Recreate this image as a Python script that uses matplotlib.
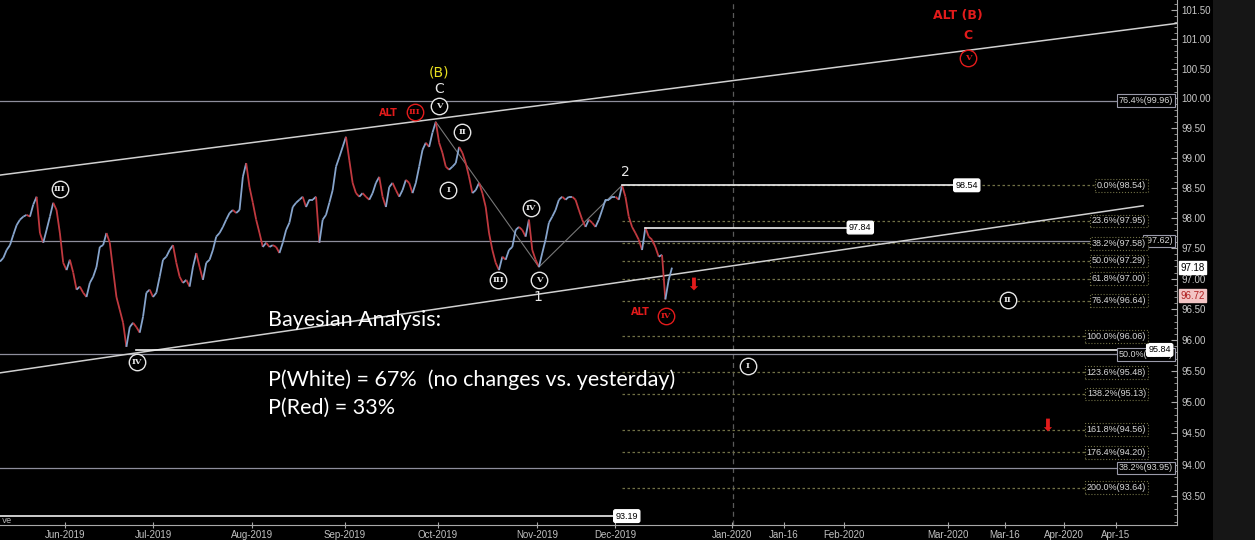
import numpy as np
import matplotlib.pyplot as plt
from matplotlib.collections import LineCollection
from matplotlib.patches import Rectangle
from matplotlib.ticker import FixedLocator, NullFormatter, FuncFormatter

# daily closes (approx.), early Jun-2019 .. mid Dec-2019, one per session
closes = [97.28, 97.34, 97.47, 97.55, 97.72, 97.88, 97.97, 98.02, 98.05, 98.02,
          98.22, 98.35, 97.75, 97.59, 97.80, 98.02, 98.25, 98.13, 97.75, 97.26,
          97.14, 97.31, 97.10, 96.82, 96.87, 96.77, 96.70, 96.93, 97.03, 97.19,
          97.52, 97.55, 97.75, 97.59, 97.14, 96.70, 96.49, 96.28, 95.89, 96.21,
          96.28, 96.21, 96.12, 96.38, 96.77, 96.82, 96.70, 96.77, 97.03, 97.31,
          97.36, 97.47, 97.55, 97.26, 97.03, 96.93, 96.98, 96.87, 97.19, 97.42,
          97.19, 96.98, 97.26, 97.31, 97.47, 97.69, 97.75, 97.85, 97.97, 98.08,
          98.13, 98.08, 98.13, 98.68, 98.91, 98.51, 98.25, 97.97, 97.75, 97.52,
          97.59, 97.52, 97.55, 97.52, 97.42, 97.59, 97.80, 97.92, 98.18, 98.25,
          98.30, 98.35, 98.18, 98.30, 98.30, 98.35, 97.59, 97.97, 98.05, 98.25,
          98.46, 98.85, 99.01, 99.18, 99.35, 98.96, 98.58, 98.41, 98.35, 98.41,
          98.35, 98.30, 98.41, 98.58, 98.68, 98.35, 98.18, 98.51, 98.58, 98.46,
          98.35, 98.46, 98.63, 98.58, 98.41, 98.58, 98.85, 99.13, 99.25, 99.18,
          99.42, 99.60, 99.25, 99.08, 98.85, 98.80, 98.85, 98.91, 99.18, 99.08,
          98.91, 98.68, 98.41, 98.46, 98.58, 98.41, 98.18, 97.75, 97.47, 97.26,
          97.14, 97.36, 97.31, 97.47, 97.52, 97.80, 97.85, 97.80, 97.69, 97.97,
          97.47, 97.31, 97.19, 97.42, 97.64, 97.92, 98.02, 98.13, 98.30, 98.35,
          98.30, 98.35, 98.35, 98.30, 98.13, 97.97, 97.85, 97.97, 97.92, 97.85,
          97.97, 98.13, 98.30, 98.30, 98.35, 98.35, 98.30, 98.54, 98.35, 98.02,
          97.85, 97.75, 97.64, 97.47, 97.84, 97.69, 97.64, 97.52, 97.36, 97.39,
          96.66, 96.98, 97.18]

# month ticks (session index) and labels
tick_pos = [19.5, 46.0, 75.7, 103.7, 131.6, 161.4, 184.9, 220.0, 235.6, 253.7,
            284.9, 302.1, 319.8, 335.4]
tick_labels = ['Jun-2019', 'Jul-2019', 'Aug-2019', 'Sep-2019', 'Oct-2019',
               'Nov-2019', 'Dec-2019', 'Jan-2020', 'Jan-16', 'Feb-2020',
               'Mar-2020', 'Mar-16', 'Apr-2020', 'Apr-15']

# fib extension levels from the wave 2 high
fib_pct = ['0.0%', '23.6%', '38.2%', '50.0%', '61.8%', '76.4%', '100.0%',
           '123.6%', '138.2%', '161.8%', '176.4%', '200.0%']
fib_vals = [98.54, 97.95, 97.58, 97.29, 97.00, 96.64, 96.06, 95.48, 95.13,
            94.56, 94.20, 93.64]

# older retracement levels running across the whole chart
ret_pct = ['76.4%', '', '50.0%', '38.2%']
ret_vals = [99.96, 97.62, 95.77, 93.95]

# white price lines: value, start, end (session index)
hl_vals = [93.19, 98.54, 97.84, 95.84]
hl_start = [0, 187, 194, 41]
hl_end = [184.8, 287, 255, 345]

# wave count: peak (B)/C, wave 1 low, wave 2 high
wave_idx = [131, 162, 187]

W = '#e6e6e6'
RED = '#e21b1b'
OLIVE = '#707046'
GREY = '#8e8e9c'

fig = plt.figure(figsize=(12.55, 5.40), dpi=100, facecolor='black')
fig.patches.append(Rectangle((1213 / 1255, 0), 42 / 1255, 1, transform=fig.transFigure,
                             fc='#161616', ec='none', zorder=0))
ax = fig.add_axes([0, 15 / 540, 1177 / 1255, 525 / 540])
ax.set_facecolor('black')
ax.set_yscale('log')
x_max = 353.8
ax.set_xlim(0, x_max)
ax.set_ylim(93.05, 101.67)

# price bars, coloured by direction
x = np.arange(len(closes))
pts = np.column_stack([x, closes])
segs = np.stack([pts[:-1], pts[1:]], axis=1)
cols = ['#86a4cc' if b >= a else '#c0393f' for a, b in zip(closes[:-1], closes[1:])]
ax.add_collection(LineCollection(segs, colors=cols, linewidths=1.3, zorder=4))

# channel lines
ax.plot([0, x_max], [98.71, 101.27], color='#d0d0d0', lw=1.1, zorder=3)
ax.plot([0, 343.6], [95.47, 98.20], color='#d0d0d0', lw=1.1, zorder=3)

# wave connector
ax.plot(wave_idx, [closes[i] for i in wave_idx], color='#777777', lw=0.8, zorder=3)

# vertical year marker
ax.axvline(220.3, color='#5a5a5a', lw=0.9, ls=(0, (4, 3)), zorder=1)

# retracement levels
for pct, v in zip(ret_pct, ret_vals):
    ax.axhline(v, xmax=344 / x_max, color=GREY, lw=0.9, zorder=2)
    ax.text(352.6, v, f'{pct}({v:.2f})', ha='right', va='center', fontsize=6.5,
            family='Liberation Sans', color='#d8d8d8', zorder=6,
            bbox=dict(boxstyle='square,pad=0.2', fc='black', ec='#9a9aaa', lw=0.8))

# white price lines with boxes
for v, a, b in zip(hl_vals, hl_start, hl_end):
    ax.plot([a, b], [v, v], color='#f0f0f0', lw=1.2, zorder=5)
for v, b in zip(hl_vals, hl_end):
    ax.text(b + 3.6, v, f'{v:.2f}', ha='center', va='center', fontsize=6.5,
            family='Liberation Sans', color='black', zorder=6,
            bbox=dict(boxstyle='round,pad=0.2', fc='white', ec='white'))

# fib extension levels
for pct, v in zip(fib_pct, fib_vals):
    ax.plot([wave_idx[2], 329], [v, v], color=OLIVE, lw=0.9, ls=(0, (2, 2)), zorder=2)
    ax.text(344.5, v, f'{pct}({v:.2f})', ha='right', va='center', fontsize=6.5,
            family='Liberation Sans', color='#d8d8d8', zorder=7,
            bbox=dict(boxstyle='square,pad=0.2', fc='black', ec=OLIVE, lw=0.8, ls=':'))

# circled wave labels
circ = [('III', 18.0, 98.48), ('IV', 41.2, 95.65), ('V', 132.0, 99.87),
        ('II', 138.9, 99.43), ('I', 134.7, 98.46), ('III', 149.7, 96.98),
        ('IV', 159.6, 98.17), ('V', 162.0, 96.98), ('II', 303.0, 96.65),
        ('I', 224.8, 95.58)]
for lab, cx, cy in circ:
    ax.scatter(cx, cy, s=140, fc='black', ec=W, lw=1, zorder=8)
    ax.text(cx, cy, lab, ha='center', va='center', fontsize=6, family='DejaVu Serif',
            weight='bold', color=W, zorder=9)

red_circ = [('III', 124.7, 99.77), ('IV', 200.2, 96.39), ('V', 291.0, 100.68)]
for lab, cx, cy in red_circ:
    ax.scatter(cx, cy, s=140, fc='black', ec=RED, lw=1, zorder=8)
    ax.text(cx, cy, lab, ha='center', va='center', fontsize=6, family='DejaVu Serif',
            weight='bold', color=RED, zorder=9)

ax.text(132, 100.16, 'C', ha='center', va='center', fontsize=10, color=W, zorder=9)
ax.text(132, 100.44, '(B)', ha='center', va='center', fontsize=10, color='#e8e020', zorder=9)
ax.text(161.7, 96.70, '1', ha='center', va='center', fontsize=10, color=W, zorder=9)
ax.text(187.9, 98.76, '2', ha='center', va='center', fontsize=10, color=W, zorder=9)

ax.text(116.6, 99.75, 'ALT', ha='center', va='center', fontsize=7, weight='bold', color=RED, zorder=9)
ax.text(192.4, 96.46, 'ALT', ha='center', va='center', fontsize=7, weight='bold', color=RED, zorder=9)
ax.text(288, 101.41, 'ALT (B)', ha='center', va='center', fontsize=9, weight='bold', color=RED, zorder=9)
ax.text(291, 101.06, 'C', ha='center', va='center', fontsize=9, weight='bold', color=RED, zorder=9)

for ax_x, ax_y in [(208.3, 96.90), (314.7, 94.62)]:
    ax.text(ax_x, ax_y, '\u2b07', ha='center', va='center', fontsize=12, color=RED,
            family='DejaVu Sans', zorder=9)

# commentary
ax.text(80.6, 96.33, 'Bayesian Analysis:', ha='left', va='center', fontsize=15.5,
        family='Lato', color='white', zorder=10)
ax.text(80.6, 95.36, 'P(White) = 67%  (no changes vs. yesterday)', ha='left', va='center',
        fontsize=15.5, family='Lato', color='white', zorder=10)
ax.text(80.6, 94.91, 'P(Red) = 33%', ha='left', va='center', fontsize=15.5,
        family='Lato', color='white', zorder=10)
ax.text(0.5, 93.12, 've', ha='left', va='center', fontsize=6, color='#b0b0b0', zorder=10)

# last price boxes on the axis
ax.text(1.003, 97.18, '97.18', transform=ax.get_yaxis_transform(), ha='left', va='center',
        fontsize=7, family='Liberation Sans', color='black', zorder=10, clip_on=False,
        bbox=dict(boxstyle='square,pad=0.15', fc='white', ec='white'))
ax.text(1.003, 96.72, '96.72', transform=ax.get_yaxis_transform(), ha='left', va='center',
        fontsize=7, family='Liberation Sans', color='#b02020', zorder=10, clip_on=False,
        bbox=dict(boxstyle='square,pad=0.15', fc='#f2c4c4', ec='#f2c4c4'))

# axes styling
for s in ['left', 'top']:
    ax.spines[s].set_visible(False)
for s in ['right', 'bottom']:
    ax.spines[s].set_color('#a8a8a8')

yt = np.arange(93.5, 101.51, 0.5)
ax.yaxis.set_major_locator(FixedLocator(yt))
ax.yaxis.set_major_formatter(FuncFormatter(lambda v, p: f'{v:.2f}'))
ax.yaxis.set_minor_locator(FixedLocator(np.arange(93.1, 101.65, 0.1)))
ax.yaxis.set_minor_formatter(NullFormatter())
ax.yaxis.tick_right()
ax.tick_params(axis='y', which='major', direction='in', length=4, color='#a8a8a8',
               labelcolor='#c8c8c8', labelsize=7, pad=3)
ax.tick_params(axis='y', which='minor', direction='in', length=2, color='#a8a8a8')
for t in ax.get_yticklabels():
    t.set_family('Liberation Sans')

ax.set_xticks(tick_pos, tick_labels)
ax.tick_params(axis='x', direction='inout', length=5, color='#a8a8a8',
               labelcolor='#c0c0c0', labelsize=7, pad=1)
for t in ax.get_xticklabels():
    t.set_family('Liberation Sans')

fig.savefig('out.png', dpi=100, facecolor=fig.get_facecolor())
